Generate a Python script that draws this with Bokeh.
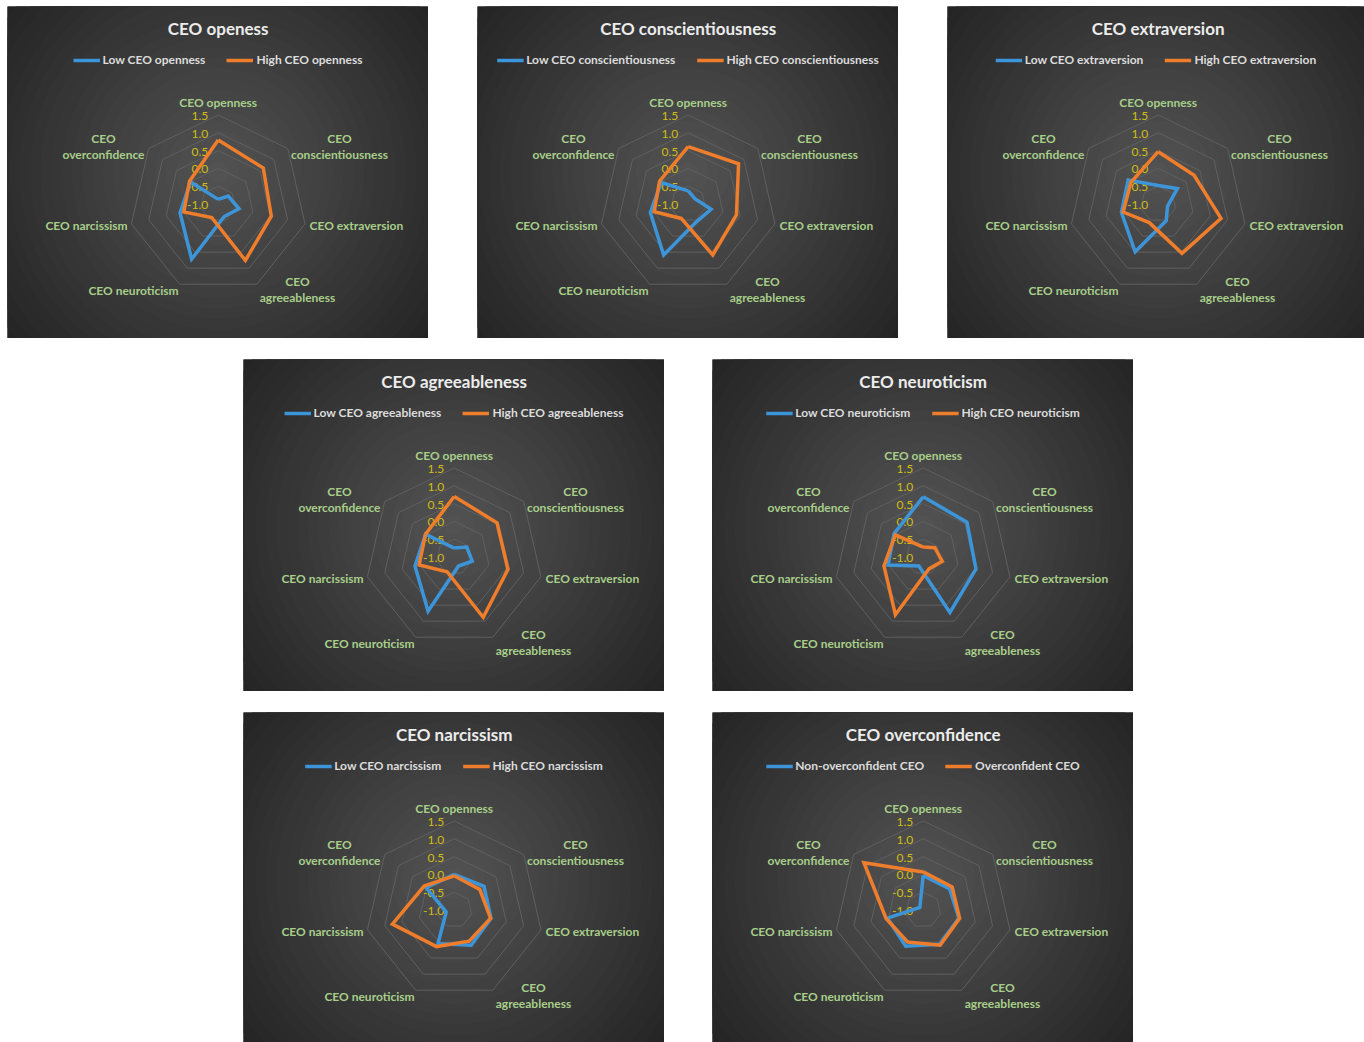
import math
from bokeh.plotting import figure
from bokeh.models import Range1d, Legend, LegendItem, Spacer
from bokeh.layouts import column, row
from bokeh.core.properties import value
from bokeh.embed import file_html
from bokeh.resources import INLINE

# ---------------- data ----------------
categories = ["CEO openness", "CEO conscientiousness", "CEO extraversion",
              "CEO agreeableness", "CEO neuroticism", "CEO narcissism",
              "CEO overconfidence"]
ring_values = [-1.0, -0.5, 0.0, 0.5, 1.0, 1.5]
tick_labels = ["-1.0", "-0.5", "0.0", "0.5", "1.0", "1.5"]

titles = ["CEO openess", "CEO conscientiousness", "CEO extraversion",
          "CEO agreeableness", "CEO neuroticism", "CEO narcissism",
          "CEO overconfidence"]
low_names = ["Low CEO openness", "Low CEO conscientiousness", "Low CEO extraversion",
             "Low CEO agreeableness", "Low CEO neuroticism", "Low CEO narcissism",
             "Non-overconfident CEO"]
high_names = ["High CEO openness", "High CEO conscientiousness", "High CEO extraversion",
              "High CEO agreeableness", "High CEO neuroticism", "High CEO narcissism",
              "Overconfident CEO"]

low_openness = [-0.87, -0.64, -0.40, -0.61, 0.72, 0.10, -0.01]
high_openness = [0.80, 0.62, 0.53, 0.76, -0.58, -0.01, 0.03]

low_conscientiousness = [-0.63, -0.76, -0.34, -0.45, 0.59, 0.09, -0.03]
high_conscientiousness = [0.61, 0.81, 0.39, 0.59, -0.55, -0.02, 0.03]

low_extraversion = [-0.48, -0.31, -0.73, -0.48, 0.49, 0.06, 0.08]
high_extraversion = [0.47, 0.29, 0.81, 0.54, -0.42, 0.01, -0.02]

low_agreeableness = [-0.75, -0.55, -0.48, -0.72, 0.69, 0.13, 0.03]
high_agreeableness = [0.70, 0.54, 0.55, 0.88, -0.54, 0.01, 0.03]

low_neuroticism = [0.69, 0.57, 0.52, 0.73, -0.72, 0.01, 0.05]
high_neuroticism = [-0.72, -0.58, -0.45, -0.63, 0.80, 0.13, 0.00]

low_narcissism = [0.00, 0.07, 0.06, 0.10, 0.05, -0.77, 0.01]
high_narcissism = [-0.04, -0.08, 0.05, -0.03, 0.14, 0.78, 0.08]

non_overconfident = [-0.03, -0.05, 0.03, 0.07, 0.13, 0.03, -0.88]
overconfident = [0.07, 0.04, 0.05, 0.10, 0.00, 0.07, 1.13]

low_series = [low_openness, low_conscientiousness, low_extraversion, low_agreeableness,
              low_neuroticism, low_narcissism, non_overconfident]
high_series = [high_openness, high_conscientiousness, high_extraversion, high_agreeableness,
               high_neuroticism, high_narcissism, overconfident]

# ---------------- styles ----------------
BLUE = "#3d95d9"
ORANGE = "#ee7d2c"
GRID = "#606060"
TITLE_C = "#ececec"
LEG_C = "#dcdcdc"
CAT_C = "#a8cf8a"
TICK_C = "#d2bd16"
BG_IN = (84, 84, 84)
BG_OUT = (36, 36, 36)
FONT = value("Lato")

S = 35.6          # pixels per value unit
CX, CY = 210.7, 197.5   # radar centre inside panel (px from left / top)

# label anchors (px offset from centre, y downwards) and alignment
cat_anchor = [(0, -101.5, "center"), (121.3, -57.5, "center"), (91.3, 21.5, "left"),
              (79.3, 85.5, "center"), (-84.7, 86.5, "center"), (-131.7, 21.5, "center"),
              (-114.7, -57.5, "center")]
wrapped = {1, 3, 6}

panel_w = [421, 421, 417, 421, 421, 421, 421]
panel_h = [332, 332, 332, 332, 332, 330, 330]

axis_min = ring_values[0]
n = len(categories)
angles = [math.pi / 2 - 2 * math.pi * k / n for k in range(n)]


def polar(vals):
    xs = [(v - axis_min) * math.cos(a) for v, a in zip(vals, angles)]
    ys = [(v - axis_min) * math.sin(a) for v, a in zip(vals, angles)]
    return xs + xs[:1], ys + ys[:1]


def px(dx, dy):
    return dx / S, -dy / S


def make_panel(i):
    W, H = panel_w[i], panel_h[i]
    p = figure(width=W, height=H,
               x_range=Range1d(-CX / S, (W - CX) / S),
               y_range=Range1d(-(H - CY) / S, CY / S),
               output_backend="svg", toolbar_location=None, min_border=0,
               x_axis_type=None, y_axis_type=None,
               background_fill_color="#242424", border_fill_color="#242424")
    p.outline_line_color = None
    p.xgrid.visible = False
    p.ygrid.visible = False

    # radial gradient background (centred on the panel)
    gx, gy = px(210.5 - CX, 166 - CY)
    rmax = 272.0
    nb = 26
    rs, cs = [], []
    for k in range(nb, 0, -1):
        t = k / nb
        c = tuple(int(round(BG_IN[j] + (BG_OUT[j] - BG_IN[j]) * t)) for j in range(3))
        rs.append(rmax * t / S)
        cs.append("#%02x%02x%02x" % c)
    p.circle(x=[gx] * nb, y=[gy] * nb, radius=rs, fill_color=cs, line_color=None)

    # grid heptagons
    for rv in ring_values[1:]:
        gxs, gys = polar([rv] * n)
        p.line(gxs, gys, line_color=GRID, line_width=1)

    # tick labels
    p.text(x=[0] * len(ring_values), y=[rv - axis_min for rv in ring_values],
           text=tick_labels, x_offset=-10, y_offset=1,
           text_align="right", text_baseline="middle", text_color=TICK_C,
           text_font=FONT, text_font_size="12px")

    # category labels
    for k, name in enumerate(categories):
        dx, dy, al = cat_anchor[k]
        x, y = px(dx, dy)
        lab = name.replace(" ", "\n", 1) if k in wrapped else name
        p.text(x=[x], y=[y], text=[lab], text_align=al, text_baseline="middle",
               text_color=CAT_C, text_font=FONT, text_font_style="bold",
               text_font_size="12px", text_line_height=1.04)

    # series
    lx, ly = polar(low_series[i])
    hx, hy = polar(high_series[i])
    r_low = p.line(lx, ly, line_color=BLUE, line_width=3.5, line_join="miter")
    r_high = p.line(hx, hy, line_color=ORANGE, line_width=3.5, line_join="miter")

    # title
    tx, ty = px(0, 22 - CY)
    p.text(x=[tx], y=[ty], text=[titles[i]], text_align="center", text_baseline="middle",
           text_color=TITLE_C, text_font=FONT, text_font_style="bold", text_font_size="17px")

    leg = Legend(items=[LegendItem(label=low_names[i], renderers=[r_low]),
                        LegendItem(label=high_names[i], renderers=[r_high])],
                 orientation="horizontal", location="top_center",
                 margin=46, padding=0, spacing=21, label_standoff=3,
                 glyph_width=27, glyph_height=14, label_height=14,
                 label_text_font="Lato", label_text_font_style="bold",
                 label_text_font_size="12px", label_text_color=LEG_C,
                 background_fill_alpha=0, border_line_color=None)
    p.add_layout(leg)
    return p


panels = [make_panel(i) for i in range(7)]

row1 = row(Spacer(width=7), panels[0], Spacer(width=49), panels[1], Spacer(width=49), panels[2])
row2 = row(Spacer(width=243), panels[3], Spacer(width=48), panels[4])
row3 = row(Spacer(width=243), panels[5], Spacer(width=48), panels[6])
layout = column(Spacer(height=6), row1, Spacer(height=21), row2, Spacer(height=21), row3)

open("out.html", "w").write(file_html(layout, INLINE, title="CEO personality radar charts"))
